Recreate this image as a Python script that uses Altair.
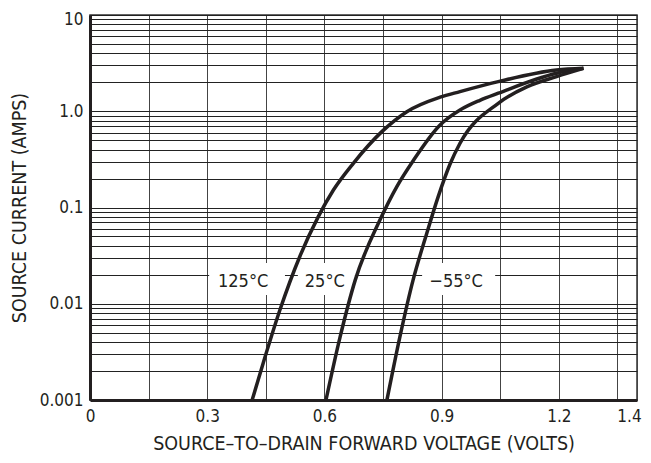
import altair as alt
import pandas as pd

FONT = "DejaVu Sans Condensed, Liberation Sans Narrow, sans-serif"
INK = "#231f20"

# ---- data ----
series_names = ["125°C", "25°C", "−55°C"]

x_125 = [0.415, 0.443, 0.486, 0.537, 0.584, 0.623, 0.674, 0.747, 0.811, 0.896, 0.947, 1.045, 1.194, 1.263]
i_125 = [0.001, 0.0024, 0.0086, 0.031, 0.080, 0.152, 0.288, 0.614, 0.99, 1.40, 1.60, 2.03, 2.68, 2.79]

x_25 = [0.604, 0.640, 0.679, 0.742, 0.785, 0.828, 0.896, 0.947, 0.998, 1.045, 1.194, 1.263]
i_25 = [0.001, 0.0045, 0.0177, 0.074, 0.164, 0.31, 0.72, 1.03, 1.30, 1.54, 2.48, 2.79]

x_m55 = [0.760, 0.793, 0.827, 0.862, 0.891, 0.921, 0.947, 1.045, 1.118, 1.194, 1.263]
i_m55 = [0.001, 0.0045, 0.0177, 0.054, 0.129, 0.28, 0.465, 1.21, 1.79, 2.29, 2.79]

label_text = ["125°C", "25°C", "−55°C"]
label_x = [0.392, 0.601, 0.937]
label_y = [0.0168, 0.0168, 0.0168]
box_x0 = [0.305, 0.532, 0.850]
box_x1 = [0.499, 0.678, 1.037]
box_y0 = [0.0123, 0.0123, 0.0123]
box_y1 = [0.0265, 0.0265, 0.0265]

x_tick_values = [0, 0.15, 0.3, 0.45, 0.6, 0.75, 0.9, 1.05, 1.2, 1.35, 1.4]
x_tick_labels = {0: "0", 0.3: "0.3", 0.6: "0.6", 0.9: "0.9", 1.2: "1.2", 1.4: "1.4"}

y_decades = [0.001, 0.01, 0.1, 1]
y_multiples = [1, 2, 3, 4, 5, 6, 7, 8, 9]
y_tick_labels = {0.001: "0.001", 0.01: "0.01", 0.1: "0.1", 1: "1.0", 10: "10"}

x_title = "SOURCE–TO–DRAIN FORWARD VOLTAGE (VOLTS)"
y_title = "SOURCE CURRENT (AMPS)"

# ---- tables ----
rows = []
for name, xs, ys in zip(series_names, [x_125, x_25, x_m55], [i_125, i_25, i_m55]):
    for xv, yv in zip(xs, ys):
        rows.append({"series": name, "v": xv, "i": yv})
curves = pd.DataFrame(rows)

labels = pd.DataFrame({
    "label": label_text, "tx": label_x, "ty": label_y,
    "bx0": box_x0, "bx1": box_x1, "by0": box_y0, "by1": box_y1,
})

y_tick_values = [round(m * d, 6) for d in y_decades for m in y_multiples] + [10]


def label_expr(mapping):
    parts = [f"datum.value == {v} ? '{t}'" for v, t in mapping.items()]
    return " : ".join(parts) + " : ''"


x_scale = alt.Scale(domain=[0, 1.4], nice=False, zero=False)
y_scale = alt.Scale(type="log", domain=[0.001, 10], nice=False)

common_axis = dict(
    grid=True, gridWidth=1, gridOpacity=1,
    ticks=False, domainColor=INK, domainWidth=3,
    labelFont=FONT, labelFontSize=17, labelColor=INK,
    labelFlush=False, labelOverlap=False,
    titleFont=FONT, titleFontSize=19.5, titleFontWeight="normal", titleColor=INK,
)

x_axis = alt.Axis(values=x_tick_values, labelExpr=label_expr(x_tick_labels),
                  labelOffset={"condition": {"test": "datum.value == 1.4", "value": -8}, "value": 0},
                  gridColor="#444444",
                  title=x_title, labelPadding=8, titlePadding=10, **common_axis)
y_axis = alt.Axis(values=y_tick_values, labelExpr=label_expr(y_tick_labels),
                  labelOffset={"condition": {"test": "datum.value == 10", "value": 4}, "value": 0},
                  gridColor="#222222",
                  title=y_title, labelPadding=7, titlePadding=10, **common_axis)

boxes = alt.Chart(labels).mark_rect(color="white", opacity=1).encode(
    x=alt.X("bx0:Q", scale=x_scale, axis=x_axis),
    x2="bx1:Q",
    y=alt.Y("by0:Q", scale=y_scale, axis=y_axis),
    y2="by1:Q",
)

lines = alt.Chart(curves).mark_line(
    interpolate="monotone", strokeWidth=3.5, color=INK, clip=True
).encode(
    x=alt.X("v:Q", scale=x_scale, axis=x_axis),
    y=alt.Y("i:Q", scale=y_scale, axis=y_axis),
    detail="series:N",
)

texts = alt.Chart(labels).mark_text(
    font=FONT, fontSize=18, color=INK, align="center", baseline="middle"
).encode(
    x=alt.X("tx:Q", scale=x_scale, axis=x_axis),
    y=alt.Y("ty:Q", scale=y_scale, axis=y_axis),
    text="label:N",
)

chart = alt.layer(boxes, lines, texts).properties(
    width=547, height=385,
    autosize=alt.AutoSizeParams(type="none"),
    padding={"left": 82, "top": 7, "right": 6, "bottom": 55},
    background="white",
).configure_view(stroke="#333333", strokeWidth=1.5)

chart.save("out.html", embed_options={"renderer": "svg", "actions": False})
